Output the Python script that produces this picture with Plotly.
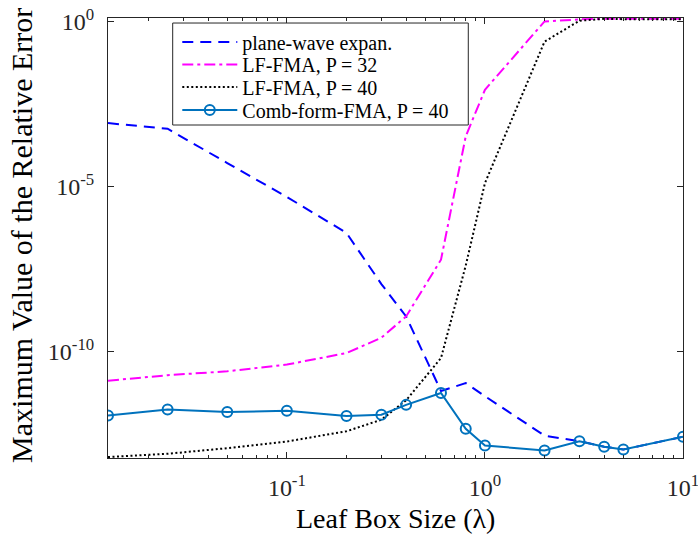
import math
import plotly.graph_objects as go

# Leaf box size in wavelengths
box_size = [0.0125, 0.025, 0.05, 0.1, 0.2, 0.3, 0.4, 0.6, 0.8, 1, 2, 3, 4, 5, 10]

# Maximum relative error of each method
plane_wave = [8.3e-4, 5.6e-4, 5.1e-5, 4.8e-6, 3.9e-7, 1.1e-8, 1.15e-9, 6.3e-12,
              1.1e-11, 4.4e-12, 2.8e-13, 1.9e-13, 1.3e-13, 1.07e-13, 2.6e-13]
lf_fma_32 = [1.3e-11, 1.9e-11, 2.5e-11, 4.0e-11, 8.9e-11, 2.6e-10, 1.15e-9, 6.0e-8,
             3.3e-4, 8.5e-3, 1.0, 1.15, 1.2, 1.2, 1.2]
lf_fma_40 = [6.3e-14, 7.9e-14, 1.17e-13, 1.86e-13, 3.8e-13, 8.5e-13, 3.3e-12, 6.3e-11,
             4.0e-8, 1.26e-5, 0.245, 1.05, 1.2, 1.17, 1.17]
comb_fma_40 = [1.15e-12, 1.74e-12, 1.45e-12, 1.58e-12, 1.10e-12, 1.20e-12, 2.4e-12, 5.5e-12,
               4.5e-13, 1.4e-13, 1.0e-13, 1.9e-13, 1.3e-13, 1.07e-13, 2.6e-13]

series_names = ["plane-wave expan.", "LF-FMA, P = 32", "LF-FMA, P = 40", "Comb-form-FMA, P = 40"]

x_ticks = [0.1, 1, 10]
x_tick_text = ["10<sup>-1</sup>", "10<sup>0</sup>", "10<sup>1</sup>"]
y_ticks = [1e-10, 1e-5, 1]
y_tick_text = ["10<sup>-10</sup>", "10<sup>-5</sup>", "10<sup>0</sup>"]

FONT = "Liberation Serif"
AXIS_COLOR = "#262626"

# one legend per series, stacked inside a single framed box
legend_ids = ["legend", "legend2", "legend3", "legend4"]
legend_rows = [0.9455, 0.8943, 0.8432, 0.7909]
legend_x = 0.1205

fig = go.Figure()
fig.add_trace(go.Scatter(x=box_size, y=plane_wave, name=series_names[0], mode="lines",
                         legend=legend_ids[0],
                         line=dict(color="#0000FF", width=2, dash="11px,7px")))
fig.add_trace(go.Scatter(x=box_size, y=lf_fma_32, name=series_names[1], mode="lines",
                         legend=legend_ids[1],
                         line=dict(color="#FF00FF", width=2, dash="11px,4px,3px,4px")))
fig.add_trace(go.Scatter(x=box_size, y=lf_fma_40, name=series_names[2], mode="lines",
                         legend=legend_ids[2],
                         line=dict(color="#000000", width=2, dash="2px,2.5px")))
fig.add_trace(go.Scatter(x=box_size, y=comb_fma_40, name=series_names[3], mode="lines+markers",
                         legend=legend_ids[3],
                         line=dict(color="#0072BD", width=2),
                         marker=dict(symbol="circle-open", size=10, color="#0072BD",
                                     line=dict(width=2, color="#0072BD"))))

minor_x = [m * 10 ** e for e in (-2, -1, 0) for m in range(2, 10)]
minor_x = [v for v in minor_x if v > box_size[0]]

axis_common = dict(showline=True, linecolor=AXIS_COLOR, linewidth=1, mirror="ticks",
                   ticks="inside", tickcolor=AXIS_COLOR, showgrid=False, zeroline=False,
                   automargin=False, ticklabeloverflow="allow",
                   tickfont=dict(family=FONT, size=24, color=AXIS_COLOR))

fig.update_xaxes(type="log", range=[math.log10(box_size[0]), 1],
                 tickvals=x_ticks, ticktext=x_tick_text, ticklen=6,
                 ticklabelstandoff=8,
                 minor=dict(tickvals=minor_x, ticks="inside", ticklen=3, tickcolor=AXIS_COLOR,
                            showgrid=False),
                 **axis_common)
fig.update_yaxes(type="log", range=[-13.23, 0.104],
                 tickvals=y_ticks, ticktext=y_tick_text, ticklen=6,
                 ticklabelstandoff=8,
                 **axis_common)

legend_style = dict(xanchor="left", yanchor="middle", bgcolor="rgba(0,0,0,0)",
                    borderwidth=0, itemwidth=55,
                    font=dict(family=FONT, size=20, color="#000000"))
legends = {lid: dict(x=legend_x, y=ly, **legend_style)
           for lid, ly in zip(legend_ids, legend_rows)}

fig.update_layout(
    width=698, height=537,
    margin=dict(l=108, r=15, t=18, b=79, autoexpand=False),
    plot_bgcolor="white", paper_bgcolor="white",
    font=dict(family=FONT, color="#000000"),
    showlegend=True,
    shapes=[dict(type="rect", xref="paper", yref="paper",
                 x0=0.1125, x1=0.6266, y0=0.7568, y1=0.9886,
                 line=dict(color=AXIS_COLOR, width=1), fillcolor="white", layer="above")],
    annotations=[
        dict(text="Leaf Box Size (λ)", xref="paper", yref="paper", x=0.5, y=-0.138,
             xanchor="center", yanchor="middle", showarrow=False,
             font=dict(family=FONT, size=28, color="#000000")),
        dict(text="Maximum Value of the Relative Error", xref="paper", yref="paper",
             x=-0.1496, y=0.507, xanchor="center", yanchor="middle", textangle=-90,
             showarrow=False, font=dict(family=FONT, size=30, color="#000000")),
    ],
    **legends,
)

fig.write_html("out.html")
